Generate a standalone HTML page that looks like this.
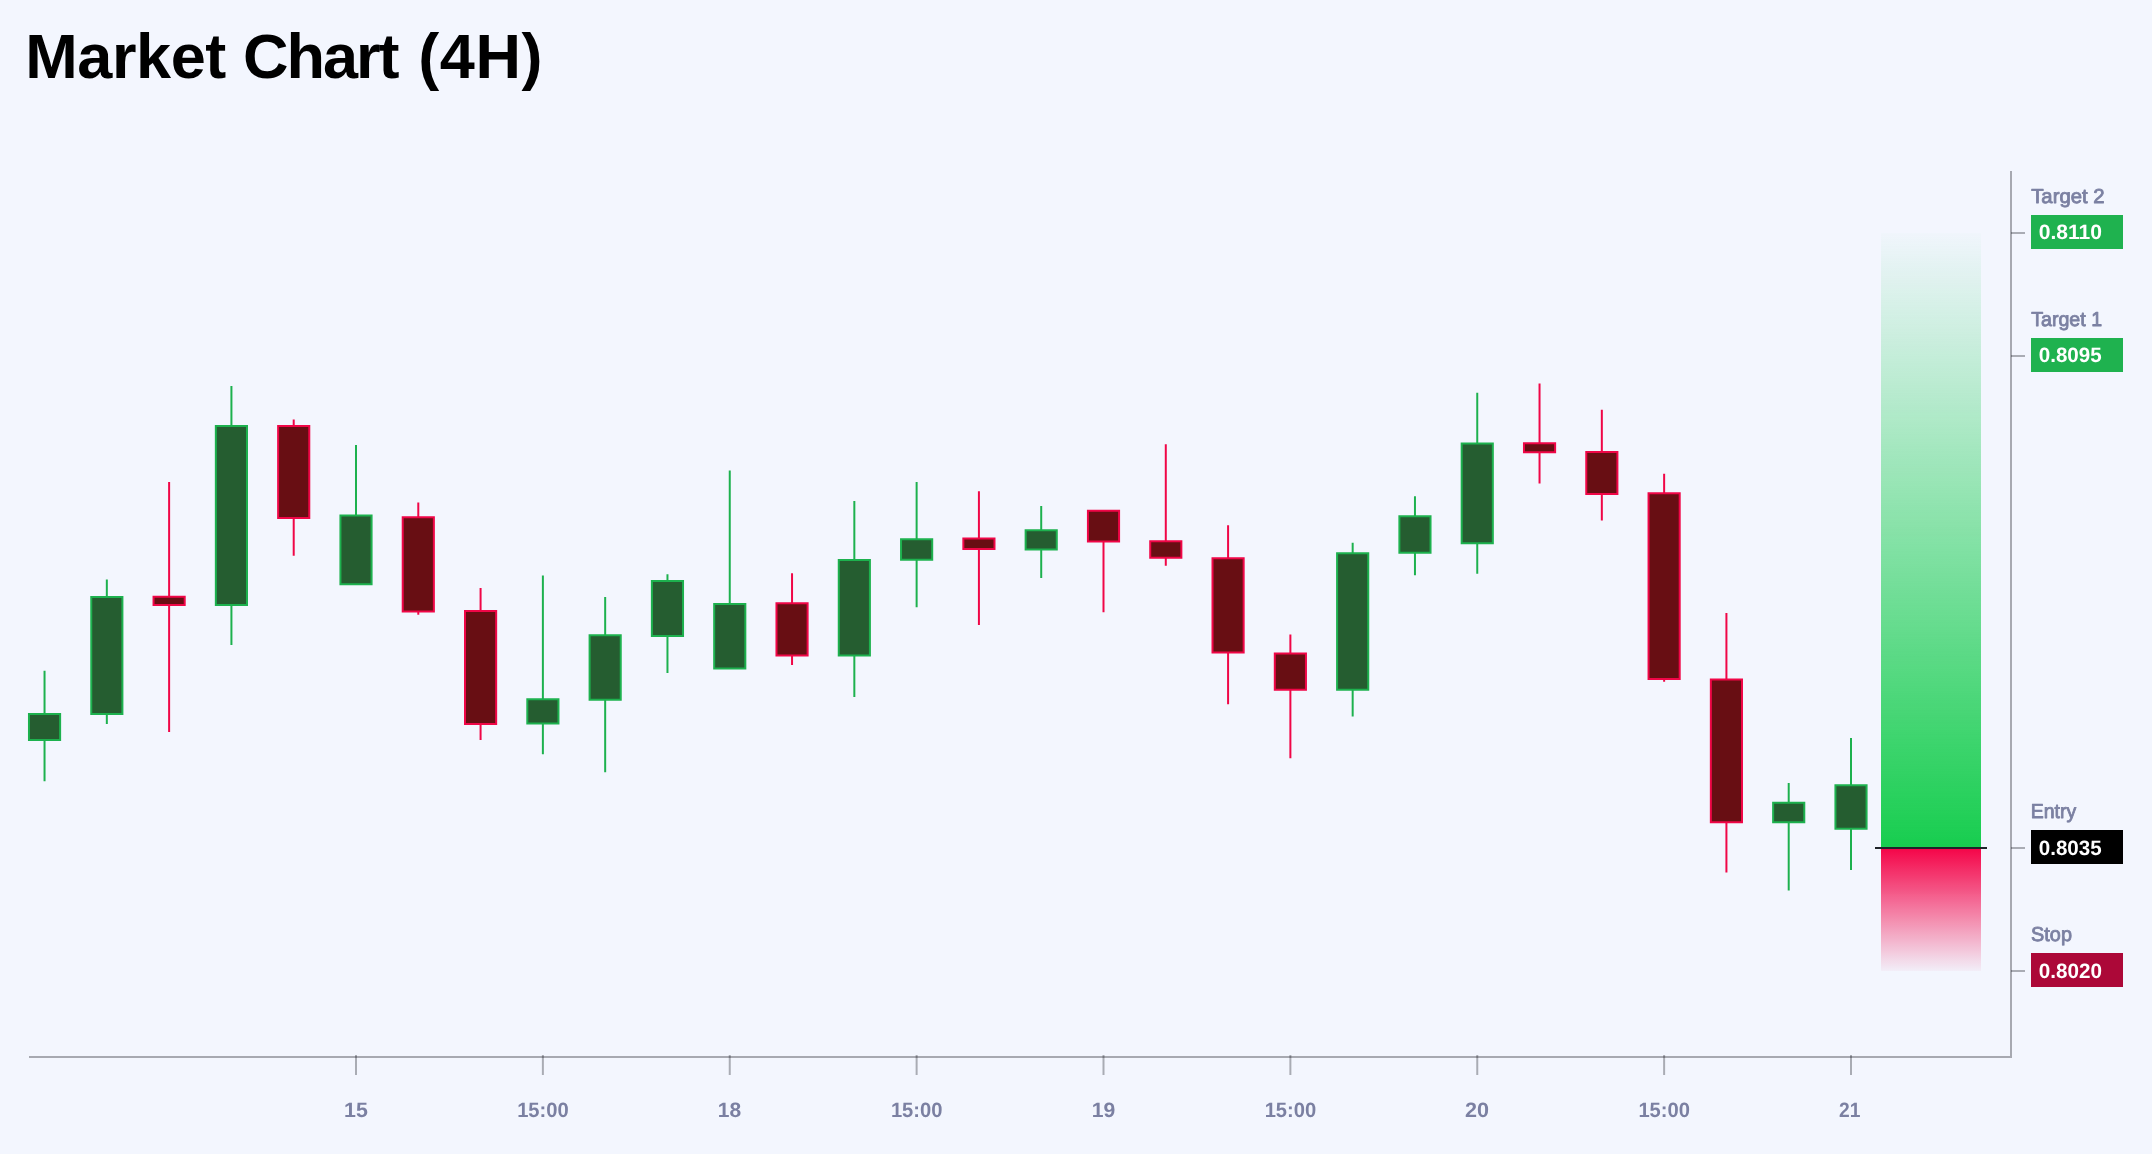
<!DOCTYPE html>
<html><head><meta charset="utf-8"><title>Market Chart (4H)</title>
<style>
html,body{margin:0;padding:0;}
body{width:2152px;height:1154px;background:#f3f6fe;overflow:hidden;position:relative;font-family:"Liberation Sans",sans-serif;}
h1{position:absolute;left:0;top:0;margin:0;font-size:63px;line-height:72px;font-weight:700;color:#000;white-space:nowrap;will-change:transform;}
h1 span{position:absolute;top:20px;}
.w1{left:25.2px;letter-spacing:-0.4px;}
.w2{left:243px;letter-spacing:-2px;}
.w3{left:418.2px;letter-spacing:0.6px;}
svg{position:absolute;left:0;top:0;will-change:transform;text-rendering:geometricPrecision;}
svg text{font-family:"Liberation Sans",sans-serif;}
</style></head>
<body>
<h1><span class="w1">Market</span> <span class="w2">Chart</span> <span class="w3">(4H)</span></h1>
<svg width="2152" height="1154" viewBox="0 0 2152 1154">
<defs>
<linearGradient id="gg" x1="0" y1="0" x2="0" y2="1"><stop offset="0" stop-color="#17cd4f" stop-opacity="0.012"/><stop offset="1" stop-color="#17cd4f" stop-opacity="1"/></linearGradient>
<linearGradient id="rg" x1="0" y1="0" x2="0" y2="1"><stop offset="0" stop-color="#f40448" stop-opacity="1"/><stop offset="1" stop-color="#f40448" stop-opacity="0.03"/></linearGradient>
</defs>
<rect x="1881" y="233" width="100" height="615" fill="url(#gg)"/>
<rect x="1881" y="848" width="100" height="123" fill="url(#rg)"/>
<line x1="44.54" x2="44.54" y1="670.75" y2="781.25" stroke="#1db14e" stroke-width="2"/>
<rect x="28.97" y="714.00" width="31.15" height="26.00" fill="#255d30" stroke="#1db14e" stroke-width="2"/>
<line x1="106.83" x2="106.83" y1="579.50" y2="724.00" stroke="#1db14e" stroke-width="2"/>
<rect x="91.26" y="597.00" width="31.15" height="117.00" fill="#255d30" stroke="#1db14e" stroke-width="2"/>
<line x1="169.12" x2="169.12" y1="482.00" y2="732.00" stroke="#f00647" stroke-width="2"/>
<rect x="153.55" y="596.75" width="31.15" height="8.25" fill="#680e13" stroke="#f00647" stroke-width="2"/>
<line x1="231.42" x2="231.42" y1="386.00" y2="645.00" stroke="#1db14e" stroke-width="2"/>
<rect x="215.84" y="426.00" width="31.15" height="179.00" fill="#255d30" stroke="#1db14e" stroke-width="2"/>
<line x1="293.71" x2="293.71" y1="419.50" y2="555.75" stroke="#f00647" stroke-width="2"/>
<rect x="278.13" y="426.00" width="31.15" height="92.00" fill="#680e13" stroke="#f00647" stroke-width="2"/>
<line x1="356.00" x2="356.00" y1="445.00" y2="584.00" stroke="#1db14e" stroke-width="2"/>
<rect x="340.43" y="515.50" width="31.15" height="68.75" fill="#255d30" stroke="#1db14e" stroke-width="2"/>
<line x1="418.29" x2="418.29" y1="502.50" y2="614.75" stroke="#f00647" stroke-width="2"/>
<rect x="402.72" y="517.25" width="31.15" height="94.25" fill="#680e13" stroke="#f00647" stroke-width="2"/>
<line x1="480.58" x2="480.58" y1="588.00" y2="740.00" stroke="#f00647" stroke-width="2"/>
<rect x="465.01" y="611.00" width="31.15" height="113.00" fill="#680e13" stroke="#f00647" stroke-width="2"/>
<line x1="542.88" x2="542.88" y1="575.50" y2="754.25" stroke="#1db14e" stroke-width="2"/>
<rect x="527.30" y="699.25" width="31.15" height="24.25" fill="#255d30" stroke="#1db14e" stroke-width="2"/>
<line x1="605.17" x2="605.17" y1="597.00" y2="772.25" stroke="#1db14e" stroke-width="2"/>
<rect x="589.59" y="635.25" width="31.15" height="64.50" fill="#255d30" stroke="#1db14e" stroke-width="2"/>
<line x1="667.46" x2="667.46" y1="574.25" y2="673.00" stroke="#1db14e" stroke-width="2"/>
<rect x="651.88" y="581.00" width="31.15" height="55.00" fill="#255d30" stroke="#1db14e" stroke-width="2"/>
<line x1="729.75" x2="729.75" y1="470.50" y2="668.00" stroke="#1db14e" stroke-width="2"/>
<rect x="714.18" y="604.00" width="31.15" height="64.50" fill="#255d30" stroke="#1db14e" stroke-width="2"/>
<line x1="792.04" x2="792.04" y1="573.25" y2="665.00" stroke="#f00647" stroke-width="2"/>
<rect x="776.47" y="603.25" width="31.15" height="52.25" fill="#680e13" stroke="#f00647" stroke-width="2"/>
<line x1="854.33" x2="854.33" y1="501.00" y2="697.00" stroke="#1db14e" stroke-width="2"/>
<rect x="838.76" y="560.00" width="31.15" height="95.50" fill="#255d30" stroke="#1db14e" stroke-width="2"/>
<line x1="916.63" x2="916.63" y1="482.00" y2="607.25" stroke="#1db14e" stroke-width="2"/>
<rect x="901.05" y="539.25" width="31.15" height="20.50" fill="#255d30" stroke="#1db14e" stroke-width="2"/>
<line x1="978.92" x2="978.92" y1="491.25" y2="625.00" stroke="#f00647" stroke-width="2"/>
<rect x="963.34" y="538.50" width="31.15" height="10.50" fill="#680e13" stroke="#f00647" stroke-width="2"/>
<line x1="1041.21" x2="1041.21" y1="506.00" y2="578.00" stroke="#1db14e" stroke-width="2"/>
<rect x="1025.63" y="530.25" width="31.15" height="19.25" fill="#255d30" stroke="#1db14e" stroke-width="2"/>
<line x1="1103.50" x2="1103.50" y1="511.00" y2="612.25" stroke="#f00647" stroke-width="2"/>
<rect x="1087.93" y="510.75" width="31.15" height="30.75" fill="#680e13" stroke="#f00647" stroke-width="2"/>
<line x1="1165.79" x2="1165.79" y1="444.25" y2="565.75" stroke="#f00647" stroke-width="2"/>
<rect x="1150.22" y="541.25" width="31.15" height="16.50" fill="#680e13" stroke="#f00647" stroke-width="2"/>
<line x1="1228.08" x2="1228.08" y1="525.25" y2="704.25" stroke="#f00647" stroke-width="2"/>
<rect x="1212.51" y="558.25" width="31.15" height="94.25" fill="#680e13" stroke="#f00647" stroke-width="2"/>
<line x1="1290.38" x2="1290.38" y1="634.50" y2="758.25" stroke="#f00647" stroke-width="2"/>
<rect x="1274.80" y="653.50" width="31.15" height="36.25" fill="#680e13" stroke="#f00647" stroke-width="2"/>
<line x1="1352.67" x2="1352.67" y1="542.75" y2="716.50" stroke="#1db14e" stroke-width="2"/>
<rect x="1337.09" y="553.25" width="31.15" height="136.50" fill="#255d30" stroke="#1db14e" stroke-width="2"/>
<line x1="1414.96" x2="1414.96" y1="496.25" y2="575.25" stroke="#1db14e" stroke-width="2"/>
<rect x="1399.38" y="516.25" width="31.15" height="36.50" fill="#255d30" stroke="#1db14e" stroke-width="2"/>
<line x1="1477.25" x2="1477.25" y1="392.75" y2="573.75" stroke="#1db14e" stroke-width="2"/>
<rect x="1461.68" y="443.50" width="31.15" height="99.75" fill="#255d30" stroke="#1db14e" stroke-width="2"/>
<line x1="1539.54" x2="1539.54" y1="383.50" y2="483.50" stroke="#f00647" stroke-width="2"/>
<rect x="1523.97" y="443.25" width="31.15" height="9.00" fill="#680e13" stroke="#f00647" stroke-width="2"/>
<line x1="1601.83" x2="1601.83" y1="409.75" y2="520.50" stroke="#f00647" stroke-width="2"/>
<rect x="1586.26" y="452.00" width="31.15" height="42.00" fill="#680e13" stroke="#f00647" stroke-width="2"/>
<line x1="1664.13" x2="1664.13" y1="473.75" y2="681.75" stroke="#f00647" stroke-width="2"/>
<rect x="1648.55" y="493.25" width="31.15" height="185.75" fill="#680e13" stroke="#f00647" stroke-width="2"/>
<line x1="1726.42" x2="1726.42" y1="613.00" y2="872.50" stroke="#f00647" stroke-width="2"/>
<rect x="1710.84" y="679.50" width="31.15" height="142.75" fill="#680e13" stroke="#f00647" stroke-width="2"/>
<line x1="1788.71" x2="1788.71" y1="783.00" y2="890.50" stroke="#1db14e" stroke-width="2"/>
<rect x="1773.13" y="802.75" width="31.15" height="19.50" fill="#255d30" stroke="#1db14e" stroke-width="2"/>
<line x1="1851.00" x2="1851.00" y1="738.00" y2="870.00" stroke="#1db14e" stroke-width="2"/>
<rect x="1835.43" y="785.25" width="31.15" height="43.50" fill="#255d30" stroke="#1db14e" stroke-width="2"/>
<line x1="1875" x2="1987" y1="848" y2="848" stroke="#1f2429" stroke-width="2"/>
<line x1="29" x2="2012" y1="1057" y2="1057" stroke="rgba(0,0,10,0.315)" stroke-width="2"/>
<line x1="2011" x2="2011" y1="171" y2="1056" stroke="rgba(0,0,10,0.315)" stroke-width="2"/>
<line x1="356.00" x2="356.00" y1="1055" y2="1075" stroke="rgba(0,0,10,0.30)" stroke-width="2"/>
<line x1="542.88" x2="542.88" y1="1055" y2="1075" stroke="rgba(0,0,10,0.30)" stroke-width="2"/>
<line x1="729.75" x2="729.75" y1="1055" y2="1075" stroke="rgba(0,0,10,0.30)" stroke-width="2"/>
<line x1="916.62" x2="916.62" y1="1055" y2="1075" stroke="rgba(0,0,10,0.30)" stroke-width="2"/>
<line x1="1103.50" x2="1103.50" y1="1055" y2="1075" stroke="rgba(0,0,10,0.30)" stroke-width="2"/>
<line x1="1290.38" x2="1290.38" y1="1055" y2="1075" stroke="rgba(0,0,10,0.30)" stroke-width="2"/>
<line x1="1477.25" x2="1477.25" y1="1055" y2="1075" stroke="rgba(0,0,10,0.30)" stroke-width="2"/>
<line x1="1664.12" x2="1664.12" y1="1055" y2="1075" stroke="rgba(0,0,10,0.30)" stroke-width="2"/>
<line x1="1851.00" x2="1851.00" y1="1055" y2="1075" stroke="rgba(0,0,10,0.30)" stroke-width="2"/>
<line x1="2011" x2="2025" y1="233" y2="233" stroke="rgba(0,0,10,0.30)" stroke-width="2"/>
<rect x="2031" y="215" width="92" height="34" fill="#1fb24f"/>
<line x1="2011" x2="2025" y1="356" y2="356" stroke="rgba(0,0,10,0.30)" stroke-width="2"/>
<rect x="2031" y="338" width="92" height="34" fill="#1fb24f"/>
<line x1="2011" x2="2025" y1="848.0" y2="848.0" stroke="rgba(0,0,10,0.30)" stroke-width="2"/>
<rect x="2031" y="830" width="92" height="34" fill="#000000"/>
<line x1="2011" x2="2025" y1="971.0" y2="971.0" stroke="rgba(0,0,10,0.30)" stroke-width="2"/>
<rect x="2031" y="953" width="92" height="34" fill="#ac0838"/>
<text transform="translate(344.06,1117.00) scale(1.0282,1)" font-size="20.8" font-weight="700" fill="#7b80a2">15</text>
<text transform="translate(517.16,1117.00) scale(0.9686,1)" font-size="20.8" font-weight="700" fill="#7b80a2">15:00</text>
<text transform="translate(717.84,1117.00) scale(1.0118,1)" font-size="20.8" font-weight="700" fill="#7b80a2">18</text>
<text transform="translate(890.91,1117.00) scale(0.9686,1)" font-size="20.8" font-weight="700" fill="#7b80a2">15:00</text>
<text transform="translate(1091.63,1117.00) scale(1.0190,1)" font-size="20.8" font-weight="700" fill="#7b80a2">19</text>
<text transform="translate(1264.66,1117.00) scale(0.9686,1)" font-size="20.8" font-weight="700" fill="#7b80a2">15:00</text>
<text transform="translate(1465.02,1117.00) scale(1.0372,1)" font-size="20.8" font-weight="700" fill="#7b80a2">20</text>
<text transform="translate(1638.41,1117.00) scale(0.9686,1)" font-size="20.8" font-weight="700" fill="#7b80a2">15:00</text>
<text transform="translate(1839.11,1117.00) scale(0.9241,1)" font-size="20.8" font-weight="700" fill="#7b80a2">21</text>
<text transform="translate(2031.20,202.50) scale(1.0062,1)" font-size="20.2" font-weight="400" fill="#7b80a2" stroke="#7b80a2" stroke-width="0.85" stroke-linejoin="round">Target 2</text>
<text transform="translate(2038.74,239.20) scale(1.0123,1)" font-size="20.8" font-weight="700" fill="#ffffff">0.8110</text>
<text transform="translate(2031.20,325.50) scale(0.9716,1)" font-size="20.2" font-weight="400" fill="#7b80a2" stroke="#7b80a2" stroke-width="0.85" stroke-linejoin="round">Target 1</text>
<text transform="translate(2038.76,362.20) scale(0.9880,1)" font-size="20.8" font-weight="700" fill="#ffffff">0.8095</text>
<text transform="translate(2030.79,818.30) scale(0.9643,1)" font-size="20.2" font-weight="400" fill="#7b80a2" stroke="#7b80a2" stroke-width="0.85" stroke-linejoin="round">Entry</text>
<text transform="translate(2038.76,855.00) scale(0.9880,1)" font-size="20.8" font-weight="700" fill="#ffffff">0.8035</text>
<text transform="translate(2031.11,941.30) scale(0.9827,1)" font-size="20.2" font-weight="400" fill="#7b80a2" stroke="#7b80a2" stroke-width="0.85" stroke-linejoin="round">Stop</text>
<text transform="translate(2038.76,978.00) scale(0.9919,1)" font-size="20.8" font-weight="700" fill="#ffffff">0.8020</text>
</svg>
</body></html>
